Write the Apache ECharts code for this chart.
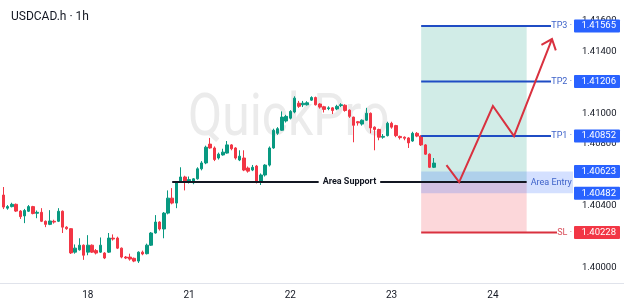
<!DOCTYPE html>
<html><head><meta charset="utf-8">
<script src="https://cdn.jsdelivr.net/npm/echarts@6/dist/echarts.min.js"></script>
<style>html,body{margin:0;padding:0;background:#fff}#c{width:624px;height:305px}</style>
</head><body><div id="c"></div>
<script>
const symbolTitle = 'USDCAD.h · 1h';
const watermark = 'QuickPro';
const days = ['17', '18', '21', '22', '23', '24'];
const startHour = 4;
const slotCount = 132;
// candles: [open, close, low, high]
const candles = [
[1.40470,1.40392,1.40379,1.40522],[1.40385,1.40395,1.40375,1.40405],[1.40395,1.40410,1.40390,1.40420],[1.40410,1.40366,1.40360,1.40415],
[1.40366,1.40330,1.40315,1.40372],[1.40335,1.40370,1.40288,1.40380],[1.40365,1.40395,1.40360,1.40405],[1.40395,1.40350,1.40345,1.40400],
[1.40352,1.40358,1.40320,1.40370],[1.40358,1.40300,1.40295,1.40385],[1.40300,1.40280,1.40262,1.40305],[1.40280,1.40302,1.40275,1.40372],
[1.40300,1.40295,1.40285,1.40310],[1.40300,1.40365,1.40295,1.40385],[1.40365,1.40262,1.40224,1.40370],[1.40262,1.40252,1.40245,1.40268],
[1.40252,1.40095,1.40088,1.40255],[1.40100,1.40126,1.40090,1.40150],[1.40115,1.40145,1.40110,1.40190],[1.40145,1.40080,1.40050,1.40150],
[1.40100,1.40145,1.40080,1.40210],[1.40145,1.40100,1.40095,1.40150],[1.40110,1.40094,1.40085,1.40120],[1.40100,1.40145,1.40095,1.40195],
[1.40094,1.40062,1.40055,1.40100],[1.40100,1.40191,1.40095,1.40224],[1.40191,1.40185,1.40175,1.40215],[1.40191,1.40126,1.40120,1.40200],
[1.40126,1.40068,1.40060,1.40130],[1.40068,1.40062,1.40055,1.40075],[1.40068,1.40055,1.40045,1.40090],[1.40060,1.40042,1.40035,1.40065],
[1.40042,1.40100,1.40030,1.40105],[1.40100,1.40088,1.40080,1.40110],[1.40090,1.40145,1.40085,1.40155],[1.40145,1.40224,1.40140,1.40230],
[1.40224,1.40295,1.40220,1.40340],[1.40295,1.40250,1.40240,1.40300],[1.40250,1.40353,1.40190,1.40360],[1.40353,1.40450,1.40345,1.40500],
[1.40450,1.40418,1.40410,1.40515],[1.40418,1.40555,1.40385,1.40560],[1.40555,1.40587,1.40550,1.40650],[1.40587,1.40555,1.40500,1.40595],
[1.40560,1.40570,1.40545,1.40590],[1.40550,1.40575,1.40540,1.40580],[1.40575,1.40640,1.40570,1.40650],[1.40640,1.40678,1.40630,1.40690],
[1.40678,1.40780,1.40670,1.40790],[1.40800,1.40775,1.40770,1.40840],[1.40775,1.40700,1.40690,1.40785],[1.40710,1.40735,1.40700,1.40745],
[1.40730,1.40748,1.40725,1.40770],[1.40742,1.40795,1.40738,1.40820],[1.40795,1.40770,1.40760,1.40800],[1.40775,1.40710,1.40700,1.40780],
[1.40697,1.40722,1.40690,1.40760],[1.40710,1.40632,1.40625,1.40760],[1.40645,1.40625,1.40615,1.40655],[1.40632,1.40650,1.40625,1.40665],
[1.40658,1.40555,1.40545,1.40665],[1.40560,1.40600,1.40535,1.40610],[1.40600,1.40664,1.40590,1.40670],[1.40664,1.40775,1.40655,1.40785],
[1.40775,1.40890,1.40770,1.40900],[1.40870,1.40900,1.40860,1.40910],[1.40890,1.40975,1.40885,1.41012],[1.40950,1.40980,1.40940,1.40990],
[1.40968,1.41012,1.40960,1.41020],[1.41008,1.41098,1.41000,1.41110],[1.41065,1.41045,1.41035,1.41080],[1.41055,1.41065,1.41040,1.41080],
[1.41055,1.41068,1.41050,1.41078],[1.41085,1.41102,1.41080,1.41110],[1.41102,1.41055,1.41050,1.41108],[1.41060,1.41040,1.41030,1.41065],
[1.41042,1.41025,1.41005,1.41048],[1.41030,1.41035,1.41020,1.41045],[1.41035,1.41018,1.40995,1.41040],[1.41028,1.41045,1.41020,1.41055],
[1.41050,1.41055,1.41040,1.41065],[1.41052,1.41018,1.41010,1.41058],[1.41020,1.40980,1.40970,1.41025],[1.40975,1.40922,1.40812,1.40978],
[1.40945,1.40938,1.40920,1.40950],[1.40930,1.40955,1.40920,1.40960],[1.40955,1.41000,1.40950,1.41035],[1.41000,1.40905,1.40870,1.41005],
[1.40910,1.40895,1.40760,1.40915],[1.40895,1.40845,1.40825,1.40900],[1.40845,1.40850,1.40835,1.40865],[1.40855,1.40935,1.40850,1.40945],
[1.40935,1.40910,1.40900,1.40945],[1.40920,1.40855,1.40845,1.40925],[1.40850,1.40842,1.40830,1.40855],[1.40845,1.40838,1.40825,1.40850],
[1.40840,1.40808,1.40775,1.40845],[1.40820,1.40870,1.40815,1.40880],[1.40870,1.40852,1.40845,1.40878],[1.40852,1.40795,1.40788,1.40858],
[1.40795,1.40735,1.40730,1.40800],[1.40735,1.40650,1.40645,1.40740],[1.40650,1.40677,1.40645,1.40710]
];
const tpNames = ['TP3', 'TP2', 'TP1'];
const tpLevels = [1.41565, 1.41206, 1.40852];
const slName = 'SL';
const slLevel = 1.40228;
const entryPrice = 1.40554;
const entryZone = [1.40623, 1.40482];
const entryLabel = 'Area Entry';
const supportLabel = 'Area Support';
const supportLevel = 1.40554;
const supportStart = 40;
const toolStart = 99;
const toolEnd = 124;
const arrowPath = [[105, 1.40664], [108, 1.40554], [116, 1.41047], [121, 1.40852], [130, 1.41481]];
const yMin = 1.399, yMax = 1.41734, yStep = 0.001;

const categories = [];
for (const d of days) for (let h = 0; h < 24; h++) {
  if (d === days[0] && h < startHour) continue;
  categories.push(d + ' ' + String(h).padStart(2, '0') + ':00');
}
categories.length = slotCount;

const BLUE_LINE = '#1f4cc4', BLUE_TEXT = '#3f63c9', BLUE_TAG = '#2962ff';
const RED_LINE = '#d9313f', RED_TEXT = '#d9505c', RED_TAG = '#f23645';
const FONT = 'Roboto, "Noto Sans", sans-serif';

function tag(x, y, text, color) {
  return [
    {type: 'rect', shape: {x: x, y: y - 6.5, width: 46, height: 13, r: 1}, style: {fill: color}},
    {type: 'text', style: {x: x + 42, y: y, text: text, fill: '#fff', font: '9.5px ' + FONT, textAlign: 'right', textVerticalAlign: 'middle'}}
  ];
}

const chart = echarts.init(document.getElementById('c'), null, {renderer: 'canvas'});
chart.setOption({
  animation: false,
  backgroundColor: '#fff',
  title: {text: symbolTitle, left: 6, top: 6, textStyle: {fontSize: 12, fontWeight: 'normal', color: '#131722', fontFamily: FONT}},
  graphic: [
    {type: 'text', x: 188, y: 90, scaleX: 0.83, z: 0, style: {text: watermark, font: '60px ' + FONT, fill: '#ebebeb'}},
    {type: 'rect', left: 0, top: 283, z: 0, shape: {width: 624, height: 1}, style: {fill: '#e0e3eb'}}
  ],
  grid: {left: 1.3, right: 65.7, top: 0, bottom: 22, containLabel: false},
  xAxis: {
    type: 'category', data: categories, boundaryGap: true,
    axisLine: {show: false}, axisTick: {show: false}, splitLine: {show: false},
    axisLabel: {
      interval: (i, v) => v.endsWith('00:00'),
      formatter: v => v.split(' ')[0],
      color: '#131722', fontSize: 10, margin: 7, fontFamily: FONT
    }
  },
  yAxis: {
    type: 'value', position: 'right', min: yMin, max: yMax, interval: yStep, scale: true,
    axisLine: {show: false}, axisTick: {show: false}, splitLine: {show: false},
    axisLabel: {
      formatter: v => (Math.round(v * 1000) % 2 === 0 ? v.toFixed(5) : ''),
      color: '#131722', fontSize: 9.5, margin: 23.7, fontFamily: FONT
    }
  },
  series: [
    {
      type: 'custom', z: 1, clip: false, silent: true,
      data: [[0, entryPrice]],
      renderItem: (params, api) => {
        const [xl, yTop] = api.coord([toolStart, tpLevels[0]]);
        const [xr, yEntry] = api.coord([toolEnd, entryPrice]);
        const ySl = api.coord([toolEnd, slLevel])[1];
        return {type: 'group', children: [
          {type: 'rect', shape: {x: xl, y: yTop, width: xr - xl, height: yEntry - yTop}, style: {fill: 'rgba(8,153,129,0.19)'}},
          {type: 'rect', shape: {x: xl, y: yEntry, width: xr - xl, height: ySl - yEntry}, style: {fill: 'rgba(242,54,69,0.2)'}}
        ]};
      }
    },
    {
      type: 'candlestick', z: 2, data: candles, barWidth: 3,
      itemStyle: {color: '#089981', color0: '#f23645', borderColor: '#089981', borderColor0: '#f23645', borderWidth: 1}
    },
    {
      type: 'custom', z: 5, clip: false, silent: true,
      data: [[0, entryPrice]],
      renderItem: (params, api) => {
        const cs = params.coordSys;
        const tagX = cs.x + cs.width + 15.7;
        const xs = api.coord([toolStart, entryPrice])[0];
        const xe = api.coord([toolEnd, entryPrice])[0];
        const ch = [];
        const yz0 = api.coord([toolStart, entryZone[0]])[1];
        const yz1 = api.coord([toolStart, entryZone[1]])[1];
        ch.push({type: 'rect', shape: {x: xs, y: yz0, width: tagX - 1 - xs, height: yz1 - yz0}, style: {fill: 'rgba(41,98,255,0.2)'}});
        ch.push({type: 'text', style: {x: xe + 4, y: (yz0 + yz1) / 2, text: entryLabel, fill: BLUE_TEXT, font: '9px ' + FONT, textVerticalAlign: 'middle'}});
        const [sx0, sy] = api.coord([supportStart, supportLevel]);
        ch.push({type: 'line', shape: {x1: sx0, y1: sy, x2: xe, y2: sy}, style: {stroke: '#131722', lineWidth: 2}});
        ch.push({type: 'text', style: {x: (sx0 + xe) / 2, y: sy, text: supportLabel, fill: '#131722', font: 'bold 9px ' + FONT,
          textAlign: 'center', textVerticalAlign: 'middle', backgroundColor: '#fff', padding: [1, 4]}});
        tpLevels.forEach((p, i) => {
          const y = api.coord([toolStart, p])[1];
          ch.push({type: 'line', shape: {x1: xs, y1: y, x2: tagX - 23, y2: y}, style: {stroke: BLUE_LINE, lineWidth: 2}});
          ch.push({type: 'text', style: {x: tagX - 2, y: y, text: tpNames[i] + ' ·', fill: BLUE_TEXT, font: '9px ' + FONT, textAlign: 'right', textVerticalAlign: 'middle'}});
          ch.push(...tag(tagX, y, p.toFixed(5), BLUE_TAG));
        });
        const ys = api.coord([toolStart, slLevel])[1];
        ch.push({type: 'line', shape: {x1: xs, y1: ys, x2: tagX - 17, y2: ys}, style: {stroke: RED_LINE, lineWidth: 2}});
        ch.push({type: 'text', style: {x: tagX - 2, y: ys, text: slName + ' ·', fill: RED_TEXT, font: '9px ' + FONT, textAlign: 'right', textVerticalAlign: 'middle'}});
        ch.push(...tag(tagX, ys, slLevel.toFixed(5), RED_TAG));
        entryZone.forEach(p => ch.push(...tag(tagX, api.coord([toolStart, p])[1], p.toFixed(5), BLUE_TAG)));
        const pts = arrowPath.map(d => api.coord(d));
        ch.push({type: 'polyline', shape: {points: pts}, style: {stroke: RED_LINE, lineWidth: 2, fill: null, lineJoin: 'miter'}});
        const tip = pts[pts.length - 1], prev = pts[pts.length - 2];
        const ang = Math.atan2(prev[1] - tip[1], prev[0] - tip[0]);
        const a = 40 * Math.PI / 180, L = 12;
        ch.push({type: 'polyline', shape: {points: [
          [tip[0] + L * Math.cos(ang + a), tip[1] + L * Math.sin(ang + a)], tip,
          [tip[0] + L * Math.cos(ang - a), tip[1] + L * Math.sin(ang - a)]
        ]}, style: {stroke: RED_LINE, lineWidth: 2, fill: null}});
        return {type: 'group', children: ch};
      }
    }
  ]
});
</script></body></html>
